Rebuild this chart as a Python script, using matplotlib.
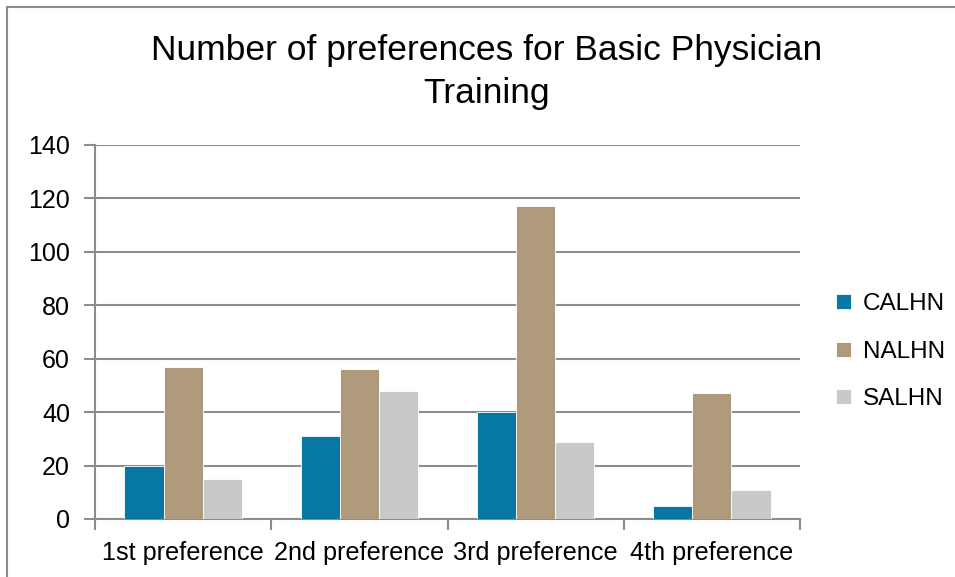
import matplotlib.pyplot as plt
from matplotlib.patches import Rectangle
import numpy as np

categories = ['1st preference', '2nd preference', '3rd preference', '4th preference']
calhn = [20, 31, 40, 5]
nalhn = [57, 56, 117, 47]
salhn = [15, 48, 29, 11]
series = [('CALHN', calhn, '#0778A4'),
          ('NALHN', nalhn, '#AF9B7C'),
          ('SALHN', salhn, '#C8C9CB')]

plt.rcParams['font.family'] = ['Liberation Sans', 'DejaVu Sans']

fig = plt.figure(figsize=(9.55, 5.77), dpi=100)
ax = fig.add_axes([95 / 955, 1 - 519 / 577, 705 / 955, 374 / 577])

x = np.arange(len(categories))
width = 0.222
for i, (name, vals, col) in enumerate(series):
    ax.bar(x + (i - 1) * width, vals, width, color=col, label=name,
           edgecolor='white', linewidth=0.6, zorder=3)

ax.set_xlim(-0.5, len(categories) - 0.5)
ax.set_ylim(0, 140)
ax.set_yticks(range(0, 141, 20))
ax.set_xticks(x)
ax.set_xticklabels(categories, fontsize=18.2)
ax.set_xticks(np.arange(-0.5, len(categories)), minor=True)
ax.tick_params(axis='x', which='major', length=0, pad=16)
ax.tick_params(axis='x', which='minor', length=8, width=1.5, color='#8c8c8c')
ax.tick_params(axis='y', length=8, width=1.5, color='#8c8c8c', labelsize=18, pad=10)

ax.grid(axis='y', color='#8c8c8c', linewidth=1.5, zorder=0)
for s in ['top', 'right']:
    ax.spines[s].set_visible(False)
for s in ['left', 'bottom']:
    ax.spines[s].set_color('#8c8c8c')
    ax.spines[s].set_linewidth(1.5)

fig.text(487 / 955, 1 - 72 / 577, 'Number of preferences for Basic Physician\nTraining',
         ha='center', va='center', fontsize=25.5, linespacing=1.4)

ax.legend(loc='center left', bbox_to_anchor=(1.02, 0.447), frameon=False,
          fontsize=17.5, handlelength=0.6, handleheight=0.6, labelspacing=1.05,
          handletextpad=0.5)

# outer chart frame
fig.patches.append(Rectangle((7 / 955, -0.1), 1.2, 1 - 7 / 577 + 0.1,
                             transform=fig.transFigure, fill=False,
                             edgecolor='#8c8c8c', linewidth=1.5))

fig.savefig('out.png', dpi=100)
